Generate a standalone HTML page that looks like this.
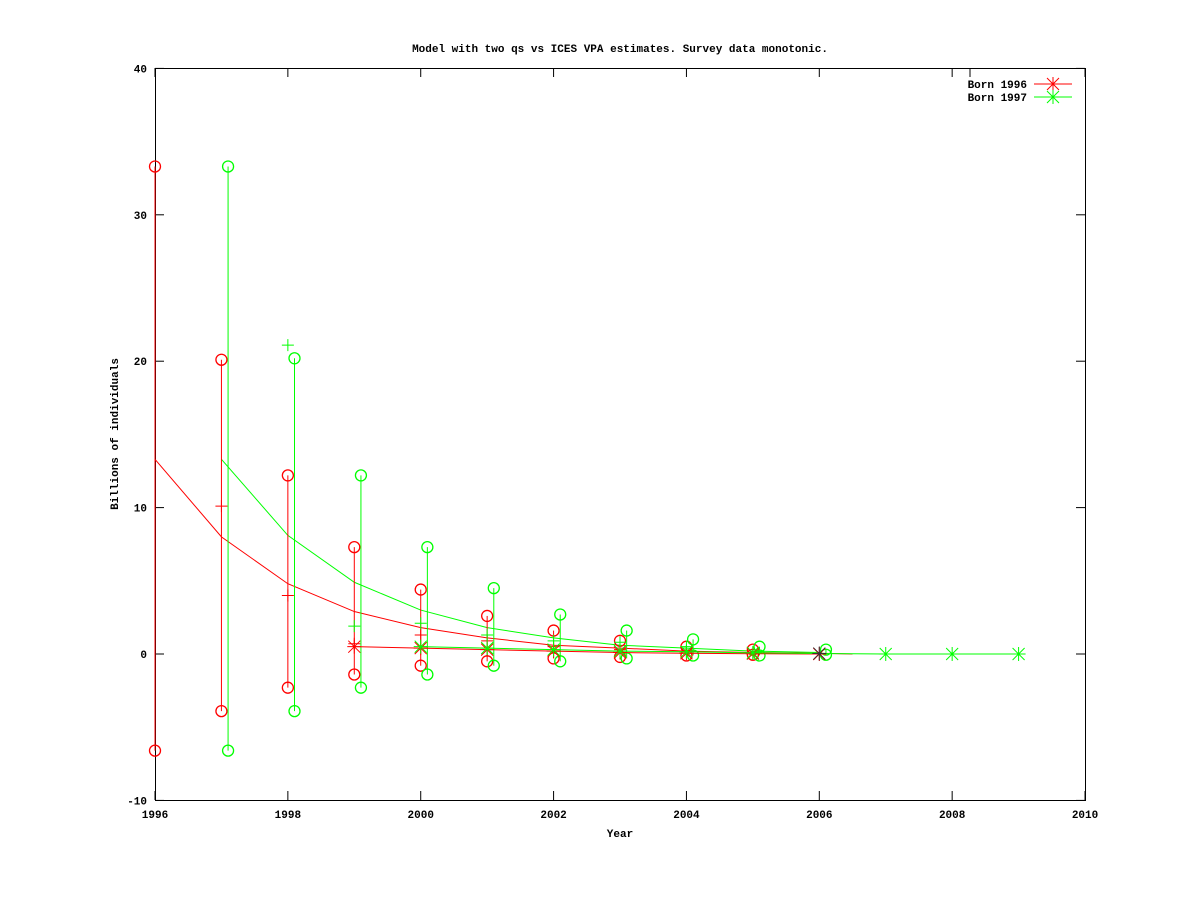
<!DOCTYPE html>
<html><head><meta charset="utf-8"><style>body{margin:0;background:#fff}svg{display:block}text{font-family:"Liberation Mono",monospace;font-size:11px;font-weight:bold}</style></head>
<body>
<svg id="s" width="1200" height="900" xmlns="http://www.w3.org/2000/svg">
<rect width="1200" height="900" fill="#fff"/>
<text x="620" y="52" text-anchor="middle">Model with two qs vs ICES VPA estimates. Survey data monotonic.</text>
<rect x="155.5" y="68.5" width="930" height="732" fill="none" stroke="#000"/>
<g id="ax"></g>
<text x="620" y="837" text-anchor="middle">Year</text>
<text transform="translate(118,434) rotate(-90)" text-anchor="middle">Billions of individuals</text>
<text x="1027" y="88" text-anchor="end">Born 1996</text>
<text x="1027" y="101" text-anchor="end">Born 1997</text>
<g id="d"></g>
</svg>
<script>
const X=y=>155+(y-1996)*66.43, Y=v=>654-v*14.64;
let a='';
for(let v=-10;v<=40;v+=10){const y=Y(v);a+=`<line x1="155" y1="${y}" x2="164" y2="${y}" stroke="#000"/><line x1="1076" y1="${y}" x2="1085" y2="${y}" stroke="#000"/><text x="147" y="${y+4}" text-anchor="end">${v}</text>`;}
for(let yr=1996;yr<=2010;yr+=2){const x=X(yr);a+=`<line x1="${x}" y1="800" x2="${x}" y2="791" stroke="#000"/><line x1="${x}" y1="68" x2="${x}" y2="77" stroke="#000"/><text x="${x}" y="818" text-anchor="middle">${yr}</text>`;}
a+=`<line x1="970" y1="68" x2="970" y2="77" stroke="#000"/>`;
document.getElementById('ax').innerHTML=a;
const R='#f00',G='#0f0';let d='';
const line=(pts,c)=>`<polyline points="${pts.map(p=>X(p[0])+','+Y(p[1])).join(' ')}" fill="none" stroke="${c}"/>`;
const circ=(x,y,c)=>`<circle cx="${x}" cy="${y}" r="5.5" fill="none" stroke="${c}" stroke-width="1.3"/>`;
const plus=(x,y,c)=>`<path d="M${x-6} ${y}h12M${x} ${y-6}v12" stroke="${c}"/>`;
const star=(x,y,c)=>`<path d="M${x-7} ${y}h14M${x} ${y-7}v14M${x-6} ${y-6}l12 12M${x-6} ${y+6}l12 -12" stroke="${c}"/>`;
const bars=(list,off,c)=>{list.forEach(([yr,hi,lo])=>{const x=X(yr+off);d+=`<line x1="${x}" y1="${Y(hi)}" x2="${x}" y2="${Y(lo)}" stroke="${c}"/>`+circ(x,Y(hi),c)+circ(x,Y(lo),c);});};
// model curves
d+=line([[1996,13.3],[1997,8.0],[1998,4.8],[1999,2.9],[2000,1.8],[2001,1.1],[2002,0.6],[2003,0.4],[2004,0.2],[2005,0.1],[2006,0.05],[2006.5,0]],R);
d+=line([[1997,13.3],[1998,8.1],[1999,4.9],[2000,3.0],[2001,1.8],[2002,1.1],[2003,0.6],[2004,0.4],[2005,0.2],[2006,0.1]],G);
bars([[1996,33.3,-6.6],[1997,20.1,-3.9],[1998,12.2,-2.3],[1999,7.3,-1.4],[2000,4.4,-0.8],[2001,2.6,-0.5],[2002,1.6,-0.3],[2003,0.9,-0.2],[2004,0.5,-0.1],[2005,0.3,-0.05]],0,R);
bars([[1997,33.3,-6.6],[1998,20.2,-3.9],[1999,12.2,-2.3],[2000,7.3,-1.4],[2001,4.5,-0.8],[2002,2.7,-0.5],[2003,1.6,-0.3],[2004,1.0,-0.1],[2005,0.5,-0.1],[2006,0.3,-0.05]],0.1,G);
[[1997,10.1],[1998,4.0],[1999,0.7],[2000,1.3],[2001,0.9],[2002,0.5],[2003,0.3],[2004,0.2]].forEach(([y,v])=>d+=plus(X(y),Y(v),R));
[[1998,21.1],[1999,1.9],[2000,2.1],[2001,1.3],[2002,0.9],[2003,0.8],[2004,0.5]].forEach(([y,v])=>d+=plus(X(y),Y(v),G));
// VPA
const rv=[[1999,0.5],[2000,0.4],[2001,0.3],[2002,0.2],[2003,0.1],[2004,0.05],[2005,0.02],[2006,0]];
const gv=[[2000,0.5],[2001,0.4],[2002,0.3],[2003,0.2],[2004,0.15],[2005,0.08],[2006,0.03],[2007,0],[2008,0],[2009,0]];
d+=line(rv,R)+line(gv,G);
rv.forEach(([y,v])=>d+=star(X(y),Y(v),R));
gv.forEach(([y,v])=>d+=star(X(y),Y(v),y==2006?'#333':G));
// legend
d+=`<line x1="1034" y1="84" x2="1072" y2="84" stroke="${R}"/>`+star(1053,84,R);
d+=`<line x1="1034" y1="97" x2="1072" y2="97" stroke="${G}"/>`+star(1053,97,G);
document.getElementById('d').innerHTML=d;
</script>
</body></html>
